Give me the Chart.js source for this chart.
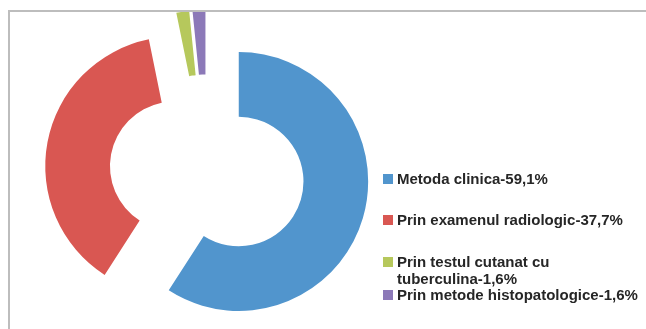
<!DOCTYPE html>
<html>
<head>
<meta charset="utf-8">
<script src="https://cdn.jsdelivr.net/npm/chart.js@4.4.1/dist/chart.umd.min.js"></script>
<style>
    html, body { margin: 0; padding: 0; background: #fff; }
    #wrap   { position: relative; width: 646px; height: 329px; overflow: hidden; }
    #c      { position: absolute; left: 0; top: 0; }
    #mask   { position: absolute; left: 0; top: 0; width: 646px; height: 10px; background: #fff; }
    #frame  {
        position: absolute; left: 8px; top: 10px; width: 660px; height: 340px;
        border-top: 2px solid #bdbdbd; border-left: 2px solid #bdbdbd;
        pointer-events: none;
    }
    #legend { position: absolute; left: 383px; top: 0; font: bold 15px "Liberation Sans", Arial, sans-serif; color: #262626; }
    .item   { position: absolute; left: 0; padding-left: 14px; line-height: 17.5px; white-space: nowrap; }
    .box    { position: absolute; left: 0; top: 4px; width: 10px; height: 10px; }
</style>
</head>
<body>
<div id="wrap">
    <canvas id="c" width="646" height="329"></canvas>
    <div id="mask"></div>
    <div id="frame"></div>
    <div id="legend"></div>
</div>
<script>
/* ── Data ──────────────────────────────────────────────────── */
const LABELS = [
    'Metoda clinica-59,1%',
    'Prin examenul radiologic-37,7%',
    ['Prin testul cutanat cu', 'tuberculina-1,6%'],
    'Prin metode histopatologice-1,6%',
];
const VALUES = [59.1, 37.7, 1.6, 1.6];
const COLORS = ['#5195CD', '#D95752', '#B6C85C', '#8C79B8'];

/* ── Layout / style ───────────────────────────────────────── */
const EXPLODE     = 33;                       // px, every slice pulled out
const LEGEND_TOPS = [169.5, 211, 252.7, 286]; // row tops of the html legend

/* pull each arc out along its bisector (Excel-style explosion) */
const explodePlugin = {
    id : 'explode',
    afterDatasetUpdate(chart, args) {
        const a  = chart.chartArea;
        const cx = (a.left + a.right) / 2;
        const cy = (a.top + a.bottom) / 2;
        args.meta.data.forEach(function (arc) {
            const mid = (arc.startAngle + arc.endAngle) / 2;
            arc.x = cx + Math.cos(mid) * EXPLODE;
            arc.y = cy + Math.sin(mid) * EXPLODE;
        });
    },
};

new Chart(document.getElementById('c'), {
    type : 'doughnut',
    data : {
        labels   : LABELS,
        datasets : [{
            data            : VALUES,
            backgroundColor : COLORS,
            borderWidth     : 0,
        }],
    },
    options : {
        responsive : false,
        animation  : false,
        events     : [],
        cutout     : '50%',
        layout     : { padding: { top: 42.8, bottom: 27.4, left: 60, right: 291.8 } },
        plugins    : {
            legend  : { display: false },
            tooltip : { enabled: false },
        },
    },
    plugins : [explodePlugin],
});

/* ── HTML legend built from the same arrays ───────────────── */
const legend = document.getElementById('legend');
LABELS.forEach(function (label, i) {
    const row = document.createElement('div');
    row.className = 'item';
    row.style.top = LEGEND_TOPS[i] + 'px';
    const box = document.createElement('span');
    box.className = 'box';
    box.style.background = COLORS[i];
    row.appendChild(box);
    const lines = Array.isArray(label) ? label : [label];
    lines.forEach(function (line, j) {
        if (j > 0) row.appendChild(document.createElement('br'));
        row.appendChild(document.createTextNode(line));
    });
    legend.appendChild(row);
});
</script>
</body>
</html>
